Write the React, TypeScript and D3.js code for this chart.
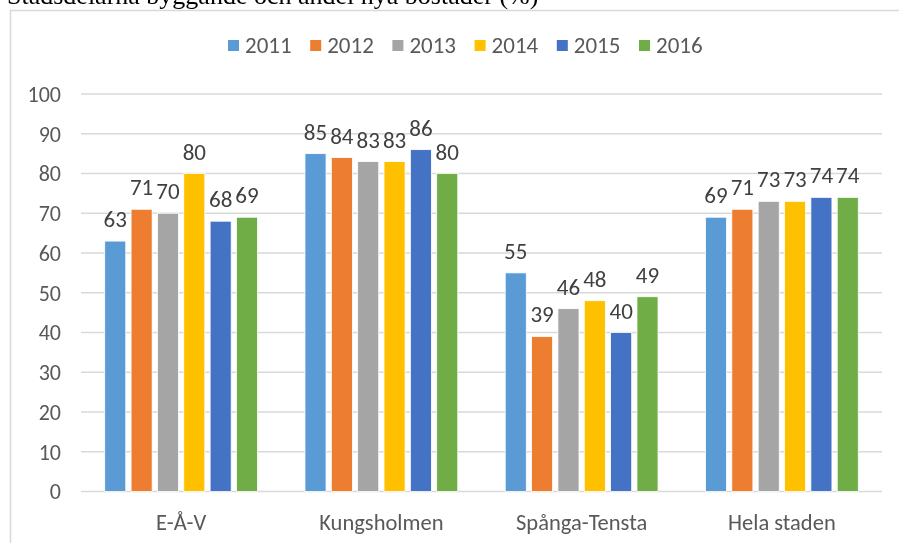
import React, { useEffect, useRef } from "react";
import * as d3 from "d3";

// Chart data
const categories = ["E-Å-V", "Kungsholmen", "Spånga-Tensta", "Hela staden"];
const years = ["2011", "2012", "2013", "2014", "2015", "2016"];
const values2011 = [63, 85, 55, 69];
const values2012 = [71, 84, 39, 71];
const values2013 = [70, 83, 46, 73];
const values2014 = [80, 83, 48, 73];
const values2015 = [68, 86, 40, 74];
const values2016 = [69, 80, 49, 74];
const yTicks = [0, 10, 20, 30, 40, 50, 60, 70, 80, 90, 100];
const colors = ["#5B9BD5", "#ED7D31", "#A5A5A5", "#FFC000", "#4472C4", "#70AD47"];
const titleText = "Stadsdelarna byggande och andel nya bostäder (%)";

const App = () => {
    const ref = useRef<SVGSVGElement | null>(null);

    useEffect(() => {
        const svg = d3.select(ref.current);
        svg.selectAll("*").remove();

        const width = 899;
        const height = 543;
        const font = "Carlito, Lato, 'Open Sans', sans-serif";

        const series = [values2011, values2012, values2013, values2014, values2015, values2016];
        const rows = categories.map((c, i) => ({
            category: c,
            values: years.map((y, j) => ({ year: y, value: series[j][i] })),
        }));

        svg.append("rect").attr("width", width).attr("height", height).attr("fill", "#fff");

        // title of the document above the chart, cut off by the crop
        svg.append("text")
            .attr("x", 7)
            .attr("y", 4)
            .style("font-family", "'Liberation Serif', 'Times New Roman', serif")
            .style("font-size", "26px")
            .attr("fill", "#000")
            .text(titleText);

        // chart frame
        svg.append("rect")
            .attr("x", 10.5)
            .attr("y", 10.5)
            .attr("width", 1000)
            .attr("height", 1000)
            .attr("fill", "#fff")
            .attr("stroke", "#d9d9d9")
            .attr("stroke-width", 1.5);

        // Scales
        const x0 = d3.scaleBand().domain(categories).range([81, 882]).padding(0);
        const x1 = d3
            .scaleBand()
            .domain(years)
            .range([0, x0.bandwidth()])
            .paddingInner(0.2)
            .paddingOuter(0.9);
        const y = d3.scaleLinear().domain([0, 100]).range([491.5, 94]);
        const color = d3.scaleOrdinal<string, string>().domain(years).range(colors);

        // gridlines
        svg.append("g")
            .selectAll("line")
            .data(yTicks)
            .enter()
            .append("line")
            .attr("x1", 81)
            .attr("x2", 882)
            .attr("y1", d => y(d))
            .attr("y2", d => y(d))
            .attr("stroke", "#d9d9d9")
            .attr("stroke-width", 1.5);

        // y tick labels
        svg.append("g")
            .selectAll("text")
            .data(yTicks)
            .enter()
            .append("text")
            .attr("x", 61)
            .attr("y", d => y(d))
            .attr("dy", "0.36em")
            .attr("text-anchor", "end")
            .style("font-family", font)
            .style("font-size", "22px")
            .attr("fill", "#595959")
            .text(d => d);

        // bars + labels
        const groups = svg
            .append("g")
            .selectAll("g")
            .data(rows)
            .enter()
            .append("g")
            .attr("transform", d => `translate(${x0(d.category)},0)`);

        groups
            .selectAll("rect")
            .data(d => d.values)
            .enter()
            .append("rect")
            .attr("x", d => x1(d.year)!)
            .attr("width", x1.bandwidth())
            .attr("y", d => y(d.value))
            .attr("height", d => y(0) - y(d.value))
            .attr("fill", d => color(d.year))
            .attr("stroke", "#fff")
            .attr("stroke-width", 0.8);

        groups
            .selectAll("text")
            .data(d => d.values)
            .enter()
            .append("text")
            .attr("x", d => x1(d.year)! + x1.bandwidth() / 2)
            .attr("y", d => y(d.value) - 14)
            .attr("text-anchor", "middle")
            .style("font-family", font)
            .style("font-size", "23px")
            .attr("fill", "#404040")
            .text(d => d.value);

        // category labels
        svg.append("g")
            .selectAll("text")
            .data(categories)
            .enter()
            .append("text")
            .attr("x", d => x0(d)! + x0.bandwidth() / 2)
            .attr("y", 530)
            .attr("text-anchor", "middle")
            .style("font-family", font)
            .style("font-size", "22.5px")
            .attr("fill", "#595959")
            .text(d => d);

        // legend
        const legend = svg
            .append("g")
            .selectAll("g")
            .data(years)
            .enter()
            .append("g")
            .attr("transform", (d, i) => `translate(${228 + i * 82.2},0)`);

        legend.append("rect")
            .attr("x", 0)
            .attr("y", 40)
            .attr("width", 11)
            .attr("height", 11)
            .attr("fill", d => color(d));

        legend.append("text")
            .attr("x", 17)
            .attr("y", 53)
            .style("font-family", font)
            .style("font-size", "23px")
            .attr("fill", "#595959")
            .text(d => d);
    }, []);

    return (
        <div style={{ position: "fixed", left: 0, top: 0 }}>
            <svg ref={ref} width={899} height={543} style={{ display: "block" }} />
        </div>
    );
};

export default App;
